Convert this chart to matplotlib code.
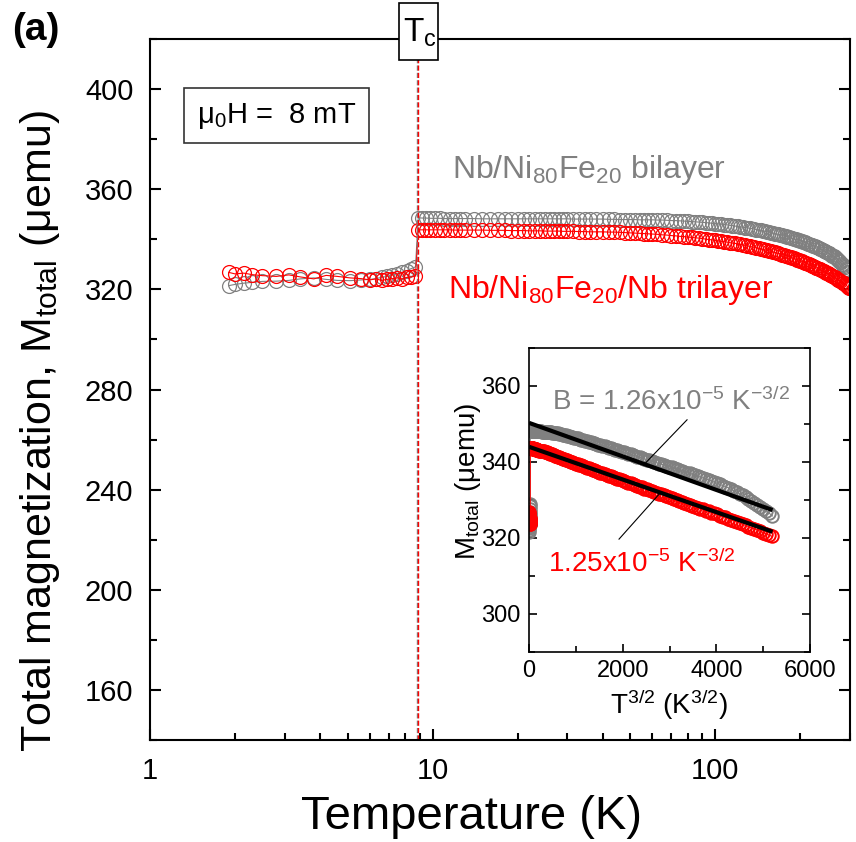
import numpy as np
import matplotlib
matplotlib.use("Agg")
import matplotlib.pyplot as plt
from matplotlib.patches import Rectangle
from matplotlib.ticker import MultipleLocator, FixedLocator, LogLocator, NullFormatter, FixedFormatter

plt.rcParams['font.family'] = ['Liberation Sans', 'DejaVu Sans']
plt.rcParams['mathtext.fontset'] = 'custom'
plt.rcParams['mathtext.rm'] = 'Liberation Sans'
plt.rcParams['mathtext.it'] = 'Liberation Sans'
plt.rcParams['mathtext.bf'] = 'Liberation Sans:bold'
plt.rcParams['mathtext.default'] = 'regular'

# temperatures (K): below Tc, just above Tc, mid range, high range
T_low = [1.9, 2.0, 2.15, 2.3, 2.5, 2.8, 3.1, 3.4, 3.8, 4.2, 4.6, 5.1, 5.6, 6.0,
         6.3, 6.6, 6.9, 7.2, 7.5, 7.8, 8.1, 8.4, 8.7]
T_near = [8.9, 9.2, 9.5, 9.8, 10.2, 10.6, 11, 11.5, 12, 12.5, 13, 14, 15, 16, 17,
          18, 19]
T_mid = [20, 21, 22, 23, 24, 25, 26, 27, 28, 29, 30, 31.5, 33, 34.5, 36, 38, 40,
         42, 44, 46, 48, 50, 52, 54, 56, 58, 60, 62.5, 65, 67.5, 70, 72.5, 75,
         77.5, 80, 82.5, 85, 87.5, 90, 92.5, 95, 97.5]
T_hot = [100, 102.5, 105, 107.5, 110, 112.5, 115, 117.5, 120, 122.5, 125, 127.5,
         130, 132.5, 135, 137.5, 140, 142.5, 145, 147.5, 150, 152.5, 155, 157.5,
         160, 162.5, 165, 167.5, 170, 172.5, 175, 177.5, 180, 182.5, 185, 187.5,
         190, 192.5, 195, 197.5, 200, 202.5, 205, 207.5, 210, 212.5, 215, 217.5,
         220, 222.5, 225, 227.5, 230, 232.5, 235, 237.5, 240, 242.5, 245, 247.5,
         250, 252.5, 255, 257.5, 260, 262.5, 265, 267.5, 270, 272.5, 275, 277.5,
         280, 282.5, 285, 287.5, 290, 292.5, 295, 297.5, 300]

# Nb/Py bilayer (grey), micro-emu
bi_low = [321.5, 322.0, 322.5, 322.8, 323.2, 323.3, 323.6, 324.2, 324.6, 324.0,
          323.6, 323.5, 323.8, 324.0, 324.3, 324.8, 325.2, 325.8, 326.3, 326.8,
          327.5, 328.3, 329.0]
bi_near = [348.6, 348.5, 348.5, 348.4, 348.4, 348.4, 348.3, 348.3, 348.3, 348.3,
           348.3, 348.3, 348.2, 348.2, 348.2, 348.2, 348.2]
bi_mid = [348.2, 348.2, 348.2, 348.2, 348.2, 348.2, 348.2, 348.2, 348.2, 348.2,
          348.2, 348.1, 348.1, 348.1, 348.1, 348.1, 348.1, 348.0, 348.0, 347.9,
          347.9, 347.9, 347.9, 347.8, 347.8, 347.8, 347.8, 347.7, 347.7, 347.6,
          347.5, 347.5, 347.4, 347.3, 347.2, 347.1, 347.0, 346.9, 346.8, 346.7,
          346.6, 346.4]
bi_hot = [346.3, 346.2, 346.1, 345.9, 345.8, 345.6, 345.5, 345.3, 345.2, 345.0,
          344.9, 344.7, 344.6, 344.4, 344.3, 344.1, 343.9, 343.8, 343.6, 343.4,
          343.2, 343.1, 342.9, 342.7, 342.5, 342.3, 342.1, 342.0, 341.8, 341.6,
          341.4, 341.2, 341.0, 340.8, 340.6, 340.4, 340.2, 340.0, 339.8, 339.6,
          339.4, 339.2, 339.0, 338.8, 338.6, 338.3, 338.1, 337.9, 337.7, 337.4,
          337.2, 337.0, 336.8, 336.5, 336.3, 336.0, 335.8, 335.5, 335.3, 335.0,
          334.7, 334.4, 334.1, 333.8, 333.5, 333.2, 332.8, 332.4, 332.0, 331.6,
          331.2, 330.8, 330.3, 329.8, 329.3, 328.8, 328.2, 327.7, 327.1, 326.5,
          325.8]

# Nb/Py/Nb trilayer (red)
tri_low = [326.8, 326.2, 326.5, 325.9, 325.5, 325.2, 325.8, 325.0, 324.2, 325.6,
           325.2, 324.6, 324.3, 323.8, 324.2, 323.6, 324.0, 324.3, 324.6, 324.2,
           324.8, 325.0, 325.3]
tri_near = [343.8, 343.8, 343.8, 343.8, 343.8, 343.8, 343.8, 343.8, 343.7, 343.7,
            343.7, 343.7, 343.7, 343.6, 343.6, 343.6, 343.5]
tri_mid = [343.5, 343.5, 343.4, 343.4, 343.4, 343.3, 343.3, 343.3, 343.3, 343.2,
           343.2, 343.2, 343.1, 343.1, 343.0, 343.0, 343.0, 342.9, 342.9, 342.8,
           342.7, 342.6, 342.5, 342.4, 342.3, 342.2, 342.1, 342.0, 341.8, 341.7,
           341.5, 341.4, 341.2, 341.1, 340.9, 340.8, 340.6, 340.5, 340.3, 340.1,
           339.9, 339.8]
tri_hot = [339.6, 339.4, 339.2, 339.1, 338.9, 338.7, 338.5, 338.4, 338.2, 338.0,
           337.8, 337.6, 337.4, 337.2, 337.0, 336.8, 336.6, 336.4, 336.2, 336.0,
           335.8, 335.6, 335.4, 335.2, 335.0, 334.8, 334.6, 334.4, 334.2, 333.9,
           333.7, 333.5, 333.3, 333.0, 332.8, 332.6, 332.4, 332.1, 331.9, 331.7,
           331.5, 331.2, 331.0, 330.7, 330.5, 330.2, 330.0, 329.7, 329.5, 329.2,
           329.0, 328.7, 328.5, 328.2, 328.0, 327.7, 327.5, 327.2, 327.0, 326.7,
           326.5, 326.2, 325.9, 325.6, 325.4, 325.1, 324.8, 324.5, 324.2, 323.9,
           323.6, 323.3, 323.0, 322.7, 322.4, 322.1, 321.8, 321.4, 321.1, 320.7,
           320.4]

Tc_bi = 8.78
Tc_tri = 8.86

# Bloch T^3/2 fits: M = M0 (1 - B T^3/2)
M0_bi, B_bi = 350.3, 1.26e-5
M0_tri, B_tri = 344.0, 1.25e-5
fit_end = 5200

GREY = '#808080'
RED = '#ff0000'

T = np.array(T_low + T_near + T_mid + T_hot)
M_bi = np.array(bi_low + bi_near + bi_mid + bi_hot)
M_tri = np.array(tri_low + tri_near + tri_mid + tri_hot)

fig = plt.figure(figsize=(8.56, 8.42), dpi=100)
ax = fig.add_axes([0.1752, 0.1211, 0.8178, 0.8325])

ax.plot(T, M_bi, '-o', color=GREY, mfc='none', ms=10, mew=0.9, lw=0.8)
ax.plot(T, M_tri, '-o', color=RED, mfc='none', ms=10, mew=0.9, lw=0.8)
ax.axvline(Tc_bi, color=GREY, ls='--', lw=1)
ax.axvline(Tc_tri, color=RED, ls='--', lw=1)

ax.set_xscale('log')
ax.set_xlim(1, 300)
ax.set_ylim(140, 420)
ax.xaxis.set_major_locator(FixedLocator([1, 10, 100]))
ax.xaxis.set_major_formatter(FixedFormatter(['1', '10', '100']))
ax.xaxis.set_minor_locator(LogLocator(subs=range(2, 10)))
ax.xaxis.set_minor_formatter(NullFormatter())
ax.set_yticks([160, 200, 240, 280, 320, 360, 400])
ax.yaxis.set_minor_locator(MultipleLocator(20))
ax.tick_params(which='both', direction='in', right=True, top=False, width=1.5)
ax.tick_params(which='major', length=8, labelsize=21)
ax.tick_params(which='minor', length=5)
ax.tick_params(axis='y', pad=12)
ax.tick_params(axis='x', pad=12)
for s in ax.spines.values():
    s.set_linewidth(1.5)

ax.set_xlabel('Temperature (K)', fontsize=34)
ax.set_ylabel('Total magnetization, M$_{total}$ (\u03bcemu)', fontsize=31)
ax.xaxis.set_label_coords(0.46, -0.078)
ax.yaxis.set_label_coords(-0.125, 0.44)

ax.text(11.7, 364.4, 'Nb/Ni$_{80}$Fe$_{20}$ bilayer', color=GREY, fontsize=23,
        ha='left', va='baseline')
ax.text(11.3, 316.4, 'Nb/Ni$_{80}$Fe$_{20}$/Nb trilayer', color=RED, fontsize=23,
        ha='left', va='baseline')

# field box
W, H = 856.0, 842.0
fig.add_artist(Rectangle((184 / W, 1 - 143 / H), 185 / W, 55 / H,
                         transform=fig.transFigure, fc='white', ec='#333333', lw=1.2))
fig.text(276.5 / W, 1 - 116 / H, '\u03bc$_0$H =  8 mT', fontsize=21,
         ha='center', va='center')

# Tc box
fig.add_artist(Rectangle((399 / W, 1 - 60 / H), 39 / W, 57 / H,
                         transform=fig.transFigure, fc='white', ec='black', lw=1.2))
fig.text(403 / W, 1 - 42 / H, 'T$_c$', fontsize=24, ha='left', va='baseline')

fig.text(12 / W, 1 - 30 / H, '(a)', fontsize=28, weight='bold', ha='left', va='center')

# inset: M vs T^3/2
axi = fig.add_axes([0.618, 0.2257, 0.3283, 0.361])
x_all = T ** 1.5
axi.plot(x_all, M_bi, '-o', color=GREY, mfc='none', ms=9, mew=1.4, lw=0.8)
axi.plot(x_all, M_tri, '-o', color=RED, mfc='none', ms=9, mew=1.4, lw=0.8)
xf = np.array([0, fit_end])
axi.plot(xf, M0_bi * (1 - B_bi * xf), color='black', lw=3, solid_capstyle='butt')
axi.plot(xf, M0_tri * (1 - B_tri * xf), color='black', lw=3, solid_capstyle='butt')
axi.plot([3374, 2477], [351.1, 339.6], color='black', lw=0.8)
axi.plot([1922, 2797], [319.7, 331.8], color='black', lw=0.8)
axi.text(491, 353.7, 'B = 1.26x10$^{-5}$ K$^{-3/2}$', color=GREY, fontsize=20,
         ha='left', va='baseline')
axi.text(406, 311, '1.25x10$^{-5}$ K$^{-3/2}$', color=RED, fontsize=20,
         ha='left', va='baseline')

axi.set_xlim(0, 6000)
axi.set_ylim(290, 370)
axi.xaxis.set_major_locator(MultipleLocator(2000))
axi.xaxis.set_minor_locator(MultipleLocator(1000))
axi.yaxis.set_major_locator(MultipleLocator(20))
axi.yaxis.set_minor_locator(MultipleLocator(10))
axi.tick_params(which='both', direction='in', right=True, top=False, width=1.2)
axi.tick_params(which='major', length=6, labelsize=17, pad=6)
axi.tick_params(which='minor', length=4)
for s in axi.spines.values():
    s.set_linewidth(1.2)
axi.set_xlabel('T$^{3/2}$ (K$^{3/2}$)', fontsize=20)
axi.set_ylabel('M$_{total}$ (\u03bcemu)', fontsize=20)
axi.xaxis.set_label_coords(0.5, -0.118)
axi.yaxis.set_label_coords(-0.165, 0.56)

fig.savefig('out.png', dpi=100)
